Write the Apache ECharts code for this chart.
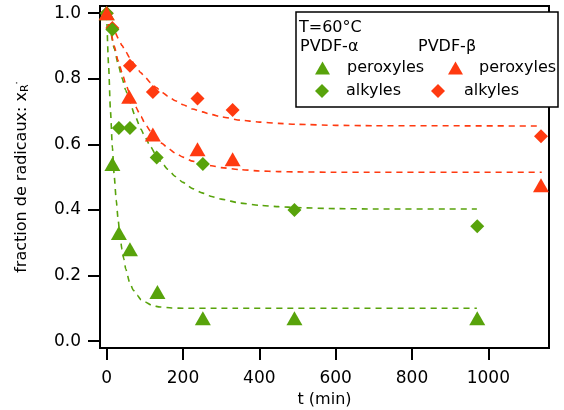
<!DOCTYPE html>
<html>
<head>
<meta charset="utf-8">
<script src="https://cdn.jsdelivr.net/npm/echarts@6/dist/echarts.min.js"></script>
<style>
  html, body { margin: 0; padding: 0; background: #fff; }
  #chart { width: 564px; height: 410px; }
</style>
</head>
<body>
<div id="chart"></div>
<script>
// tick labels
const xTicks = [0, 200, 400, 600, 800, 1000]
const yTicks = [0, 0.2, 0.4, 0.6, 0.8, 1.0]

// measured points, t (min) and fraction
const alphaPeroxT = [0, 15, 32, 61, 133, 252, 492, 971]
const alphaPeroxY = [1.0, 0.54, 0.33, 0.28, 0.15, 0.07, 0.07, 0.07]
const alphaAlkT = [0, 15, 32, 61, 131, 252, 492, 971]
const alphaAlkY = [1.0, 0.95, 0.65, 0.65, 0.56, 0.54, 0.40, 0.35]
const betaPeroxT = [0, 59, 121, 238, 330, 1138]
const betaPeroxY = [1.0, 0.745, 0.63, 0.585, 0.555, 0.475]
const betaAlkT = [0, 15, 61, 121, 238, 330, 1138]
const betaAlkY = [1.0, 0.955, 0.84, 0.76, 0.74, 0.705, 0.625]

// fitted curves
const fitAlphaPeroxT = [0, 5, 10, 15, 20, 25, 30, 35, 40, 45, 50, 60, 70, 80, 90, 100, 120, 140, 170, 200, 300, 970]
const fitAlphaPeroxY = [1.0, 0.84, 0.70, 0.59, 0.50, 0.43, 0.37, 0.32, 0.28, 0.25, 0.22, 0.18, 0.155, 0.14, 0.126, 0.12, 0.108, 0.104, 0.101, 0.10, 0.10, 0.10]
const fitAlphaAlkT = [0, 10, 20, 30, 40, 50, 60, 75, 90, 100, 115, 130, 145, 160, 180, 200, 225, 250, 275, 300, 350, 400, 450, 500, 600, 700, 970]
const fitAlphaAlkY = [1.0, 0.943, 0.892, 0.845, 0.803, 0.765, 0.731, 0.685, 0.646, 0.623, 0.593, 0.566, 0.543, 0.524, 0.502, 0.484, 0.465, 0.452, 0.441, 0.433, 0.421, 0.414, 0.410, 0.407, 0.404, 0.403, 0.403]
const fitBetaPeroxT = [0, 10, 20, 30, 40, 50, 60, 75, 90, 100, 115, 130, 145, 160, 180, 200, 225, 250, 275, 300, 350, 400, 450, 500, 600, 700, 1140]
const fitBetaPeroxY = [1.0, 0.945, 0.899, 0.855, 0.820, 0.784, 0.756, 0.716, 0.685, 0.664, 0.640, 0.620, 0.603, 0.589, 0.573, 0.561, 0.549, 0.541, 0.535, 0.529, 0.523, 0.519, 0.517, 0.516, 0.515, 0.515, 0.515]
const fitBetaAlkT = [0, 10, 20, 30, 40, 50, 60, 75, 90, 100, 115, 130, 145, 160, 180, 200, 225, 250, 275, 300, 350, 400, 450, 500, 600, 700, 1140]
const fitBetaAlkY = [1.0, 0.972, 0.947, 0.924, 0.902, 0.883, 0.865, 0.840, 0.818, 0.806, 0.788, 0.773, 0.759, 0.747, 0.733, 0.721, 0.708, 0.699, 0.691, 0.684, 0.674, 0.668, 0.664, 0.661, 0.658, 0.657, 0.656]

const GREEN = '#58a30b'
const RED = '#ff3a10'
const FONT = 'DejaVu Sans'

const zip = (xs, ys) => xs.map((x, i) => [x, ys[i]])

const fitLine = (t, y, color) => ({
  type: 'line',
  data: zip(t, y),
  symbol: 'none',
  smooth: 0.2,
  smoothMonotone: 'x',
  silent: true,
  lineStyle: { color, width: 1.6, type: [6, 5] },
  z: 2
})

const marks = (name, t, y, color, symbol, size) => ({
  type: 'scatter',
  name,
  data: zip(t, y),
  symbol,
  symbolSize: size,
  itemStyle: { color, opacity: 1 },
  z: 3
})

// one legend per entry so each can sit where the original puts it
const legendAt = (name, left, top, icon, w, h, gap) => ({
  data: [{ name, icon }],
  left,
  top,
  padding: 0,
  itemWidth: w,
  itemHeight: h,
  formatter: n => n.split(' ')[1],
  textStyle: {
    fontFamily: FONT,
    fontSize: 16,
    color: '#000',
    lineHeight: 18,
    padding: [0, 0, 0, gap]
  },
  selectedMode: false,
  z: 6
})

const tickFont = { fontFamily: FONT, fontSize: 17, color: '#000' }

const chart = echarts.init(document.getElementById('chart'))
chart.setOption({
  animation: false,
  backgroundColor: '#fff',
  grid: {
    left: 100,
    right: 15,
    top: 6,
    bottom: 62,
    outerBoundsMode: 'none',
    containLabel: false,
    show: true,
    borderColor: '#000',
    borderWidth: 2,
    backgroundColor: 'transparent'
  },
  xAxis: {
    type: 'value',
    min: -17.5,
    max: 1159,
    name: 't (min)',
    nameLocation: 'middle',
    nameGap: 42,
    nameTextStyle: { fontFamily: FONT, fontSize: 16, color: '#000' },
    axisLine: { onZero: false, lineStyle: { color: '#000', width: 2 } },
    axisTick: { show: true, length: 12, customValues: xTicks, lineStyle: { color: '#000', width: 2 } },
    axisLabel: Object.assign({ customValues: xTicks, margin: 22, formatter: v => String(v) }, tickFont),
    splitLine: { show: false }
  },
  yAxis: {
    type: 'value',
    min: -0.021,
    max: 1.022,
    name: 'fraction de radicaux: x{sub|R}{dot|·}',
    nameLocation: 'middle',
    nameRotate: 90,
    nameGap: 69,
    nameTextStyle: {
      fontFamily: FONT,
      fontSize: 16,
      color: '#000',
      rich: {
        sub: { fontFamily: FONT, fontSize: 11, color: '#000', padding: [8, 0, 0, 0] },
        dot: { fontFamily: FONT, fontSize: 10, color: '#000', padding: [0, 0, 8, 0] }
      }
    },
    axisLine: { onZero: false, lineStyle: { color: '#000', width: 2 } },
    axisTick: { show: true, length: 12, customValues: yTicks, lineStyle: { color: '#000', width: 2 } },
    axisLabel: Object.assign({ customValues: yTicks, margin: 19, formatter: v => v.toFixed(1) }, tickFont),
    splitLine: { show: false }
  },
  legend: [
    legendAt('α peroxyles', 315, 59, 'triangle', 15, 13, 12),
    legendAt('α alkyles', 315, 82, 'diamond', 14, 14, 12),
    legendAt('β peroxyles', 448, 59, 'triangle', 15, 13, 11),
    legendAt('β alkyles', 431, 82, 'diamond', 14, 14, 14)
  ],
  graphic: [
    {
      type: 'rect',
      shape: { x: 296, y: 12, width: 262, height: 95 },
      style: { fill: '#fff', stroke: '#000', lineWidth: 1.5 },
      z: 5
    },
    {
      type: 'text',
      x: 299,
      y: 28,
      style: { text: 'T=60°C', font: '16px "DejaVu Sans"', fill: '#000', verticalAlign: 'middle' },
      z: 6
    },
    {
      type: 'text',
      x: 300,
      y: 47,
      style: { text: 'PVDF-α', font: '16px "DejaVu Sans"', fill: '#000', verticalAlign: 'middle' },
      z: 6
    },
    {
      type: 'text',
      x: 418,
      y: 47,
      style: { text: 'PVDF-β', font: '16px "DejaVu Sans"', fill: '#000', verticalAlign: 'middle' },
      z: 6
    }
  ],
  series: [
    fitLine(fitAlphaPeroxT, fitAlphaPeroxY, GREEN),
    fitLine(fitAlphaAlkT, fitAlphaAlkY, GREEN),
    fitLine(fitBetaPeroxT, fitBetaPeroxY, RED),
    fitLine(fitBetaAlkT, fitBetaAlkY, RED),
    marks('β alkyles', betaAlkT, betaAlkY, RED, 'diamond', 14),
    marks('α peroxyles', alphaPeroxT, alphaPeroxY, GREEN, 'triangle', [16, 14]),
    marks('α alkyles', alphaAlkT, alphaAlkY, GREEN, 'diamond', 14),
    marks('β peroxyles', betaPeroxT, betaPeroxY, RED, 'triangle', [16, 14])
  ]
})
</script>
</body>
</html>
